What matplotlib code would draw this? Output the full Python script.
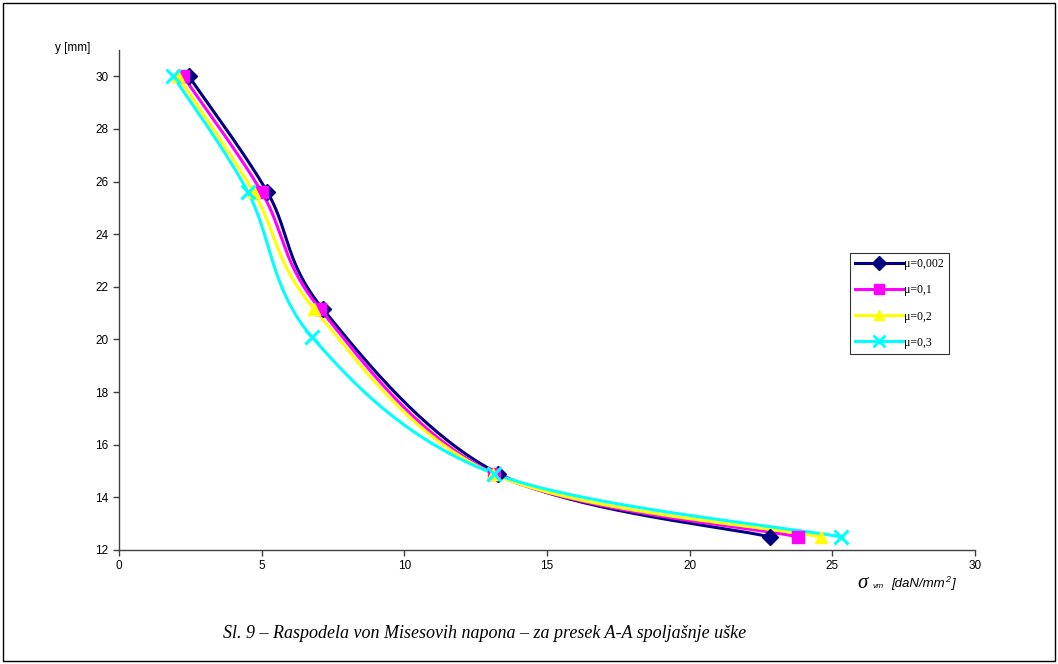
import numpy as np
import matplotlib
matplotlib.use("Agg")
import matplotlib.pyplot as plt
from matplotlib.patches import Rectangle

# data (x = sigma_vm, y = position)
y_mm = [30.0, 25.6, 21.15, 14.9, 12.5]
y_mm_03 = [30.0, 25.6, 20.1, 14.9, 12.5]
sig_0002 = [2.45, 5.2, 7.15, 13.3, 22.8]
sig_01 = [2.25, 5.0, 7.05, 13.15, 23.8]
sig_02 = [2.07, 4.72, 6.85, 13.1, 24.6]
sig_03 = [1.9, 4.52, 6.76, 13.15, 25.3]
labels = ["\u03bc=0,002", "\u03bc=0,1", "\u03bc=0,2", "\u03bc=0,3"]
colors = ["#000080", "#FF00FF", "#FFFF00", "#00FFFF"]
markers = ["D", "s", "^", "x"]

X_MAX, Y_MIN, Y_MAX = 30, 12, 31


def smooth(xs, ys, sx, sy, n=40):
    # Excel-like smoothed line: cubic Bezier with Catmull-Rom style control points
    p = np.column_stack([np.asarray(xs) * sx, np.asarray(ys) * sy])
    out = []
    for i in range(len(p) - 1):
        p0 = p[i - 1] if i > 0 else p[i]
        p1, p2 = p[i], p[i + 1]
        p3 = p[i + 2] if i + 2 < len(p) else p[i + 1]
        c1 = p1 + (p2 - p0) / 6.0
        c2 = p2 - (p3 - p1) / 6.0
        t = np.linspace(0, 1, n)[:, None]
        seg = (1 - t) ** 3 * p1 + 3 * (1 - t) ** 2 * t * c1 + 3 * (1 - t) * t ** 2 * c2 + t ** 3 * p2
        out.append(seg if i == 0 else seg[1:])
    out = np.vstack(out)
    return out[:, 0] / sx, out[:, 1] / sy


fig = plt.figure(figsize=(10.58, 6.64), dpi=100)
fig.patches.append(Rectangle((0.003, 0.004), 0.994, 0.992, transform=fig.transFigure,
                             fill=False, edgecolor="black", linewidth=1.0))

ax = fig.add_axes([119 / 1058, 1 - 550 / 664, (975 - 119) / 1058, (550 - 50) / 664])
ax_w, ax_h = 975 - 119, 550 - 50
sx = ax_w / X_MAX
sy = ax_h / (Y_MAX - Y_MIN)

series = [(sig_0002, y_mm), (sig_01, y_mm), (sig_02, y_mm), (sig_03, y_mm_03)]
for i in range(4):
    xs, ys = series[i]
    cx, cy = smooth(xs, ys, sx, sy)
    ax.plot(cx, cy, color=colors[i], linewidth=2.2, zorder=2 + i * 0.01)
for i in range(4):
    xs, ys = series[i]
    ms = 10 if markers[i] == "x" else 8.5
    mew = 2.2 if markers[i] == "x" else 1
    ax.plot(xs, ys, linestyle="none", marker=markers[i], color=colors[i],
            markersize=ms, markeredgewidth=mew, zorder=3 + i * 0.01)

# legend proxies
handles = []
for i in range(4):
    ms = 8 if markers[i] == "x" else 7.5
    h, = ax.plot([], [], color=colors[i], linewidth=2.2, marker=markers[i],
                 markersize=ms, markeredgewidth=2 if markers[i] == "x" else 1)
    handles.append(h)
leg = ax.legend(handles, labels, loc="upper left", bbox_to_anchor=(850 / 1058, 1 - 253 / 664),
                bbox_transform=fig.transFigure, frameon=True, fancybox=False,
                prop={"family": "Liberation Serif", "size": 8.5}, handlelength=4.0,
                handletextpad=0.15, labelspacing=1.2, borderpad=0.45, borderaxespad=0,
                handleheight=0.9)
leg.get_frame().set_edgecolor("black")
leg.get_frame().set_linewidth(0.8)

ax.set_xlim(0, X_MAX)
ax.set_ylim(Y_MIN, Y_MAX)
ax.set_xticks(range(0, 31, 5))
ax.set_yticks(range(12, 31, 2))
for s in ["top", "right"]:
    ax.spines[s].set_visible(False)
for s in ["left", "bottom"]:
    ax.spines[s].set_color("#404040")
    ax.spines[s].set_linewidth(1.0)
ax.tick_params(direction="out", length=4, width=1, color="#404040", labelsize=8.5)
for lab in ax.get_xticklabels() + ax.get_yticklabels():
    lab.set_family("Liberation Sans")

fig.text(55 / 1058, 1 - 48 / 664, "y [mm]", family="Liberation Sans", fontsize=8.5,
         ha="left", va="center")

# x axis label: sigma_vm [daN/mm^2]
fig.text(857 / 1058, 1 - 584 / 664, "\u03c3", family="Liberation Serif", style="italic",
         fontsize=15, ha="left", va="center")
fig.text(873 / 1058, 1 - 587 / 664, "vm", family="Liberation Sans", style="italic",
         fontsize=6, ha="left", va="center")
fig.text(891 / 1058, 1 - 584 / 664, "[daN/mm", family="Liberation Sans", style="italic",
         fontsize=9.5, ha="left", va="center")
fig.text(945 / 1058, 1 - 579 / 664, "2", family="Liberation Sans", style="italic",
         fontsize=6.5, ha="left", va="center")
fig.text(951 / 1058, 1 - 584 / 664, "]", family="Liberation Sans", style="italic",
         fontsize=9.5, ha="left", va="center")

fig.text(485 / 1058, 1 - 633 / 664,
         "Sl. 9 \u2013 Raspodela von Misesovih napona \u2013 za presek A-A spolja\u0161nje u\u0161ke",
         family="Liberation Serif", style="italic", fontsize=13, ha="center", va="center")

fig.savefig("out.png", dpi=100)
